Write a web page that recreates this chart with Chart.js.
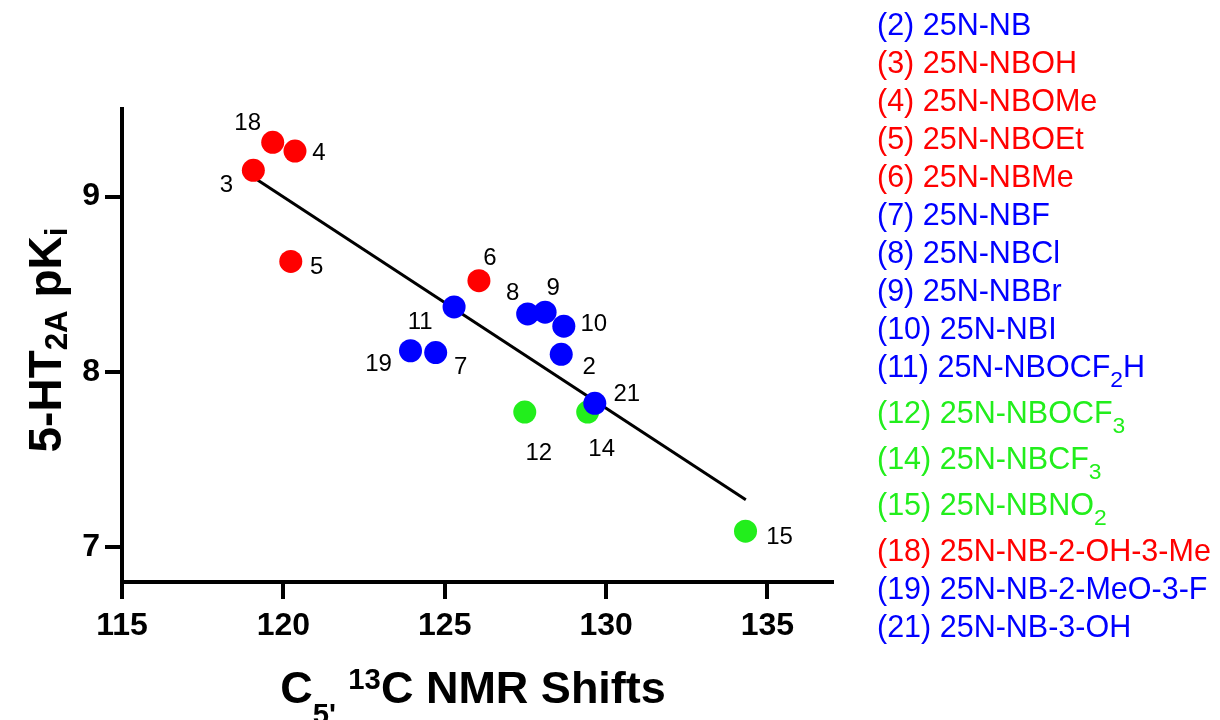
<!DOCTYPE html>
<html>
<head>
<meta charset="utf-8">
<script src="https://cdn.jsdelivr.net/npm/chart.js@4/dist/chart.umd.min.js"></script>
<style>
  html, body { margin: 0; padding: 0; background: #fff; }
  #wrap { width: 1220px; height: 720px; position: relative; }
</style>
</head>
<body>
<div id="wrap"><canvas id="c" width="1220" height="720"></canvas></div>
<script>
// ---- data ----
const compoundIds   = [2, 3, 4, 5, 6, 7, 8, 9, 10, 11, 12, 14, 15, 18, 19, 21];
const compoundNames = ['25N-NB', '25N-NBOH', '25N-NBOMe', '25N-NBOEt', '25N-NBMe', '25N-NBF',
                       '25N-NBCl', '25N-NBBr', '25N-NBI', '25N-NBOCF_{2}H', '25N-NBOCF_{3}',
                       '25N-NBCF_{3}', '25N-NBNO_{2}', '25N-NB-2-OH-3-Me', '25N-NB-2-MeO-3-F', '25N-NB-3-OH'];
const compoundGroup = ['blue', 'red', 'red', 'red', 'red', 'blue', 'blue', 'blue', 'blue', 'blue',
                       'green', 'green', 'green', 'red', 'blue', 'blue'];
const nmrShift = [128.61, 119.07, 120.36, 120.23, 126.06, 124.72, 127.57, 128.11, 128.69, 125.29,
                  127.48, 129.43, 134.32, 119.67, 123.94, 129.65];
const pKi      = [8.10, 9.15, 9.26, 8.63, 8.52, 8.11, 8.33, 8.34, 8.26, 8.37,
                  7.77, 7.77, 7.09, 9.31, 8.12, 7.82];
const fitShift = [119.07, 134.33];
const fitPKi   = [9.11, 7.27];
const xTicks = [115, 120, 125, 130, 135];
const yTicks = [7, 8, 9];
const xTitle = "C_{5'} ^{13}C NMR Shifts";
const yTitle = '5-HT_{2A} pK_{i}';

// ---- styling ----
const FONT = "'Liberation Sans', Arial, Helvetica, sans-serif";
const groupColor = { red: '#ff0000', blue: '#0000ff', green: '#22ee1c' };
const groupOrder = { blue: 0, red: 1, green: 2 };
// pixel offsets of each compound number from its marker centre
const labelOffset = {
  2: [28, 11], 3: [-27, 13], 4: [24, 0], 5: [26, 4], 6: [11, -24], 7: [25, 13],
  8: [-15, -23], 9: [8, -26], 10: [30, -4], 11: [-34, 13], 12: [14, 39], 14: [14, 35],
  15: [34, 4], 18: [-25, -21], 19: [-32, 12], 21: [32, -11]
};

function buildGroup(g) {
  const pts = [];
  compoundIds.forEach((id, i) => {
    if (compoundGroup[i] === g) pts.push({ x: nmrShift[i], y: pKi[i], id });
  });
  return {
    type: 'scatter',
    data: pts,
    order: groupOrder[g],
    backgroundColor: groupColor[g],
    borderColor: groupColor[g],
    borderWidth: 0,
    pointRadius: 11.5,
    pointHoverRadius: 11.5
  };
}

// rich text with _{sub} and ^{sup}
function richSegments(text) {
  const segs = []; const re = /([_^])\{([^}]*)\}/g; let last = 0, m;
  while ((m = re.exec(text))) {
    if (m.index > last) segs.push({ t: text.slice(last, m.index), k: 'n' });
    segs.push({ t: m[2], k: m[1] === '_' ? 'sub' : 'sup' });
    last = re.lastIndex;
  }
  if (last < text.length) segs.push({ t: text.slice(last), k: 'n' });
  return segs;
}
function drawRich(ctx, text, x, y, o) {
  const segs = richSegments(text);
  const fontFor = k => `${o.weight || 'normal'} ${k === 'n' ? o.size : o.size * o.scale}px ${FONT}`;
  let w = 0;
  segs.forEach(s => { ctx.font = fontFor(s.k); s.w = ctx.measureText(s.t).width; w += s.w; });
  let cx = o.align === 'center' ? x - w / 2 : x;
  ctx.fillStyle = o.color; ctx.textBaseline = 'alphabetic'; ctx.textAlign = 'left';
  segs.forEach(s => {
    ctx.font = fontFor(s.k);
    const dy = s.k === 'sub' ? o.drop : (s.k === 'sup' ? -o.rise : 0);
    ctx.fillText(s.t, cx, y + dy);
    cx += s.w;
  });
}

const annotate = {
  id: 'annotate',
  afterDatasetsDraw(chart) {
    const ctx = chart.ctx;
    ctx.save();
    ctx.font = `24px ${FONT}`; ctx.fillStyle = '#000';
    ctx.textAlign = 'center'; ctx.textBaseline = 'alphabetic';
    chart.data.datasets.forEach((ds, i) => {
      if (ds.type !== 'scatter') return;
      chart.getDatasetMeta(i).data.forEach((el, j) => {
        const id = ds.data[j].id; const off = labelOffset[id];
        ctx.fillText(String(id), el.x + off[0], el.y + off[1] + 8.6);
      });
    });
    ctx.restore();
  },
  afterDraw(chart) {
    const ctx = chart.ctx; const a = chart.chartArea;
    ctx.save();
    // axis titles
    drawRich(ctx, xTitle, (a.left + a.right) / 2 - 4, 703,
      { size: 45, weight: 'bold', color: '#000', align: 'center', scale: 0.65, drop: 21, rise: 14 });
    ctx.save();
    ctx.translate(61, 340);
    ctx.rotate(-Math.PI / 2);
    drawRich(ctx, yTitle, 0, 0,
      { size: 46, weight: 'bold', color: '#000', align: 'center', scale: 0.68, drop: 6, rise: 14 });
    ctx.restore();
    // compound key
    let y = 35; let prevSub = false;
    compoundIds.forEach((id, i) => {
      if (i > 0) y += 38 + (prevSub ? 8 : 0);
      const name = compoundNames[i];
      drawRich(ctx, `(${id}) ${name}`, 877, y,
        { size: 30.5, weight: 'normal', color: groupColor[compoundGroup[i]], align: 'left', scale: 0.75, drop: 10, rise: 12 });
      prevSub = name.indexOf('_{') >= 0;
    });
    ctx.restore();
  }
};

const datasets = ['blue', 'red', 'green'].map(buildGroup);
datasets.push({
  type: 'line',
  data: fitShift.map((x, i) => ({ x, y: fitPKi[i] })),
  order: 3,
  borderColor: '#000',
  borderWidth: 3,
  pointRadius: 0,
  fill: false,
  tension: 0
});

const axisFont = { family: FONT, size: 32, weight: 'bold' };

new Chart(document.getElementById('c'), {
  type: 'scatter',
  data: { datasets },
  plugins: [annotate],
  options: {
    responsive: false,
    animation: false,
    devicePixelRatio: 1,
    layout: { padding: { left: 0, top: 109, right: 388, bottom: 0 } },
    plugins: { legend: { display: false }, tooltip: { enabled: false } },
    scales: {
      x: {
        type: 'linear', min: 115, max: 137,
        afterBuildTicks: s => { s.ticks = xTicks.map(v => ({ value: v })); },
        afterFit: s => { s.height = 138; },
        border: { display: true, color: '#000', width: 4 },
        grid: { display: true, drawOnChartArea: false, drawTicks: true, tickLength: 17, tickWidth: 4, tickColor: '#000', color: '#000', lineWidth: 4 },
        ticks: { color: '#000', font: axisFont, padding: 8, maxRotation: 0 }
      },
      y: {
        type: 'linear', min: 6.8, max: 9.5,
        afterBuildTicks: s => { s.ticks = yTicks.map(v => ({ value: v })); },
        afterFit: s => { s.width = 122; },
        border: { display: true, color: '#000', width: 4 },
        grid: { display: true, drawOnChartArea: false, drawTicks: true, tickLength: 17, tickWidth: 4, tickColor: '#000', color: '#000', lineWidth: 4 },
        ticks: { color: '#000', font: axisFont, padding: 5 }
      }
    }
  }
});
</script>
</body>
</html>
